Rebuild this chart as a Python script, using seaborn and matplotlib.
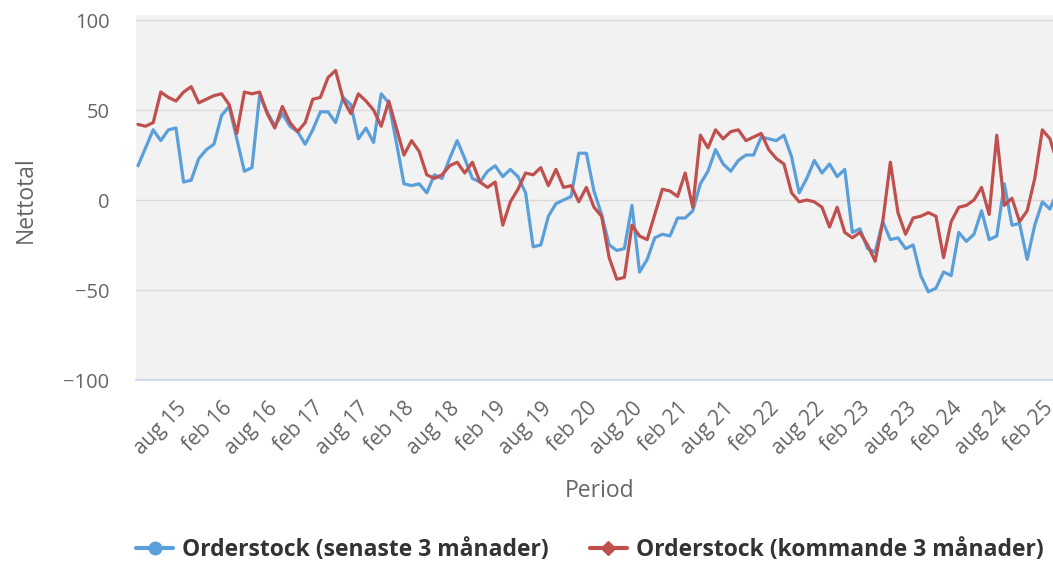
import numpy as np
import pandas as pd
import matplotlib
matplotlib.use("Agg")
import matplotlib.pyplot as plt
import matplotlib.transforms as mtransforms
from matplotlib.lines import Line2D
import seaborn as sns

# monthly values, mar 2015 .. apr 2025
months = pd.period_range("2015-03", periods=122, freq="M")

senaste = [19, 29, 39, 33, 39, 40, 10, 11, 23, 28,
           31, 47, 52, 34, 16, 18, 58, 49, 41, 48,
           41, 38, 31, 39, 49, 49, 43, 57, 53, 34,
           40, 32, 59, 54, 32, 9, 8, 9, 4, 14,
           12, 23, 33, 23, 12, 10, 16, 19, 13, 17,
           13, 4, -26, -25, -9, -2, 0, 2, 26, 26,
           5, -8, -25, -28, -27, -3, -40, -33, -21, -19,
           -20, -10, -10, -6, 9, 16, 28, 20, 16, 22,
           25, 25, 35, 34, 33, 36, 24, 4, 12, 22,
           15, 20, 13, 17, -18, -16, -27, -29, -12, -22,
           -21, -27, -25, -42, -51, -49, -40, -42, -18, -23,
           -19, -6, -22, -20, 9, -14, -13, -33, -14, -1,
           -5, 5]

kommande = [42, 41, 43, 60, 57, 55, 60, 63, 54, 56,
            58, 59, 53, 37, 60, 59, 60, 48, 40, 52,
            43, 38, 43, 56, 57, 68, 72, 56, 48, 59,
            55, 50, 41, 55, 40, 25, 33, 27, 14, 12,
            14, 19, 21, 15, 21, 10, 7, 10, -14, -1,
            6, 15, 14, 18, 8, 17, 7, 8, -1, 7,
            -4, -9, -32, -44, -43, -14, -20, -22, -8, 6,
            5, 2, 15, -4, 36, 29, 39, 34, 38, 39,
            33, 35, 37, 28, 23, 20, 4, -1, 0, -1,
            -4, -15, -4, -18, -21, -18, -25, -34, -12, 21,
            -7, -19, -10, -9, -7, -9, -32, -12, -4, -3,
            0, 7, -8, 36, -3, 1, -12, -6, 12, 39,
            34, 20]

tick_labels = ["aug 15", "feb 16", "aug 16", "feb 17", "aug 17", "feb 18", "aug 18",
               "feb 19", "aug 19", "feb 20", "aug 20", "feb 21", "aug 21", "feb 22",
               "aug 22", "feb 23", "aug 23", "feb 24", "aug 24", "feb 25"]
y_ticks = [-100, -50, 0, 50, 100]

series_names = ["Orderstock (senaste 3 månader)", "Orderstock (kommande 3 månader)"]
colors = ["#5b9fda", "#c0504d"]
markers = ["o", "D"]

df = pd.DataFrame({"pos": np.arange(len(months)),
                   series_names[0]: senaste,
                   series_names[1]: kommande})
df = df.melt(id_vars="pos", var_name="serie", value_name="Nettotal")

sns.set_style("white")
plt.rcParams["font.family"] = ["Open Sans", "DejaVu Sans"]

fig = plt.figure(figsize=(10.53, 5.63), dpi=100)
ax = fig.add_axes([136 / 1053, (563 - 380) / 563, 917 / 1053, 365 / 563])
ax.set_facecolor("#f2f2f2")

sns.lineplot(data=df, x="pos", y="Nettotal", hue="serie", palette=colors,
             linewidth=2.3, legend=False, ax=ax)

ax.set_ylim(-100, 102.8)
ax.set_xlim(-0.26, 120.4)
ax.set_yticks(y_ticks)
ax.grid(axis="y", color="#d9d9d9", linewidth=1)
ax.set_axisbelow(True)
for s in ["top", "left", "right"]:
    ax.spines[s].set_visible(False)
ax.spines["bottom"].set_color("#ccd6eb")
ax.spines["bottom"].set_linewidth(1.2)

tick_pos = [i for i, m in enumerate(months) if m.month in (2, 8)]
ax.set_xticks(tick_pos)
ax.set_xticklabels(tick_labels, rotation=45, ha="right", va="top",
                   rotation_mode="anchor", fontsize=15, color="#666666")
shift = mtransforms.ScaledTranslation(3 / 100, 0, fig.dpi_scale_trans)
for lab in ax.get_xticklabels():
    lab.set_transform(lab.get_transform() + shift)
ax.tick_params(axis="x", length=0, pad=13)
ax.tick_params(axis="y", length=0, pad=19, labelsize=14.5, labelcolor="#666666")

ax.set_xlabel("Period", fontsize=16.5, color="#666666")
ax.xaxis.set_label_coords((600 - 136) / 917, -(479 - 380) / 365)
ax.set_ylabel("Nettotal", fontsize=16.5, color="#666666")
ax.yaxis.set_label_coords((38 - 136) / 917, (380 - 200) / 365)

handles = [Line2D([], [], color=c, lw=3, marker=m, markersize=9 if m == "o" else 7.5)
           for c, m in zip(colors, markers)]
fig.legend(handles, series_names, loc="center", bbox_to_anchor=(590 / 1053, 1 - 550 / 563),
           ncol=2, frameon=False, handlelength=1.6, handletextpad=0.4, columnspacing=1.8,
           prop={"size": 16.5, "weight": "bold"}, labelcolor="#333333")

fig.savefig("out.png", dpi=100)
